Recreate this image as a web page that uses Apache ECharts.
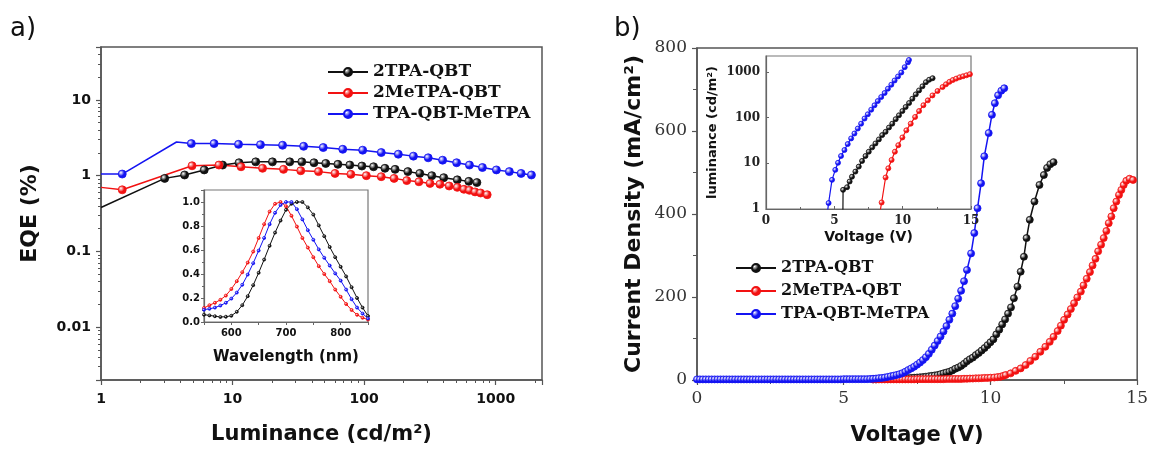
<!DOCTYPE html>
<html>
<head>
<meta charset="utf-8">
<script src="https://cdn.jsdelivr.net/npm/echarts@6/dist/echarts.min.js"></script>
<style>
  html, body { margin: 0; padding: 0; background: #fff; }
  #chart { width: 1151px; height: 453px; }
</style>
</head>
<body>
<div id="chart"></div>
<script>
// ---- data ----
const seriesNames = ["2TPA-QBT", "2MeTPA-QBT", "TPA-QBT-MeTPA"];
const seriesColors = ["#111111", "#f21212", "#1414f2"];

// a) EQE vs luminance
const blackLum = [1, 3.05, 4.32, 6.09, 8.4, 11.2, 15.0, 20.1, 27.2, 33.6, 41.6, 51.1, 63.2, 77.8, 96.2, 118, 144, 172, 215, 265, 327, 403, 511, 625, 720];
const blackEqe = [0.38, 0.92, 1.02, 1.19, 1.38, 1.48, 1.52, 1.52, 1.52, 1.52, 1.48, 1.45, 1.41, 1.38, 1.34, 1.31, 1.25, 1.21, 1.13, 1.07, 1.0, 0.94, 0.88, 0.84, 0.81];
const redLum = [1, 1.45, 4.92, 7.88, 11.6, 16.9, 24.4, 33.0, 45.0, 60.1, 79.3, 104, 135, 169, 211, 261, 317, 377, 443, 511, 574, 632, 697, 768, 862];
const redEqe = [0.7, 0.65, 1.35, 1.38, 1.31, 1.25, 1.21, 1.16, 1.13, 1.07, 1.04, 1.0, 0.97, 0.92, 0.86, 0.83, 0.79, 0.77, 0.73, 0.7, 0.66, 0.64, 0.61, 0.59, 0.56];
const blueLum = [1, 1.45, 3.75, 4.86, 7.24, 11.1, 16.3, 24.0, 34.7, 48.9, 68.8, 97.5, 135, 182, 237, 307, 395, 505, 632, 793, 1013, 1271, 1561, 1870];
const blueEqe = [1.05, 1.05, 2.78, 2.65, 2.65, 2.59, 2.56, 2.52, 2.44, 2.35, 2.23, 2.17, 2.02, 1.92, 1.81, 1.72, 1.6, 1.48, 1.38, 1.28, 1.19, 1.13, 1.07, 1.02];
const eqeNoMarker = [[0], [0], [0, 2]];

// a) inset: EL spectra
const wavelength = [550, 560, 570, 580, 590, 600, 610, 620, 630, 640, 650, 660, 670, 680, 690, 700, 710, 720, 730, 740, 750, 760, 770, 780, 790, 800, 810, 820, 830, 840, 850];
const blackEl = [0.061, 0.055, 0.048, 0.042, 0.044, 0.052, 0.085, 0.14, 0.215, 0.307, 0.41, 0.52, 0.635, 0.745, 0.845, 0.935, 0.985, 1.0, 1.0, 0.955, 0.895, 0.805, 0.715, 0.625, 0.54, 0.46, 0.38, 0.29, 0.2, 0.12, 0.05];
const redEl = [0.117, 0.14, 0.16, 0.185, 0.22, 0.275, 0.34, 0.415, 0.495, 0.587, 0.7, 0.815, 0.92, 0.985, 1.0, 0.965, 0.885, 0.795, 0.7, 0.62, 0.54, 0.465, 0.4, 0.34, 0.27, 0.21, 0.15, 0.1, 0.06, 0.035, 0.02];
const blueEl = [0.103, 0.11, 0.12, 0.137, 0.16, 0.195, 0.245, 0.31, 0.395, 0.49, 0.595, 0.7, 0.815, 0.91, 0.975, 1.0, 1.0, 0.94, 0.855, 0.765, 0.685, 0.605, 0.535, 0.47, 0.405, 0.345, 0.27, 0.19, 0.12, 0.07, 0.03];

// b) current density vs voltage, [V, mA/cm2]
const blackJV = [
  [6,1.5],[6.1,1.5],[6.2,2],[6.3,2],[6.4,2],[6.5,2],[6.6,2.5],[6.7,2.5],[6.8,3],[6.9,3],
  [7,3.5],[7.1,4],[7.2,4.5],[7.3,5],[7.4,5.5],[7.5,6],[7.6,6.5],[7.7,7],[7.8,8],[7.9,9],
  [8,10],[8.1,11],[8.2,12],[8.3,14],[8.4,16],[8.5,18],[8.6,20],[8.7,23],[8.8,27],[8.9,30],
  [9,34],[9.1,39],[9.2,45],[9.3,50],[9.4,54],[9.5,60],[9.6,65],[9.7,71],[9.8,77],[9.9,84],
  [10,91],[10.1,98],[10.2,110],[10.3,121],[10.4,134],[10.5,146],[10.6,160],[10.7,175],[10.8,197],[10.92,225],
  [11.03,261],[11.14,297],[11.23,342],[11.34,386],[11.5,430],[11.67,470],[11.82,494],[11.93,511],[12.04,520],[12.15,525]
];
const redJV = [
  [6,1.5],[6.1,1.5],[6.2,1.5],[6.3,1.5],[6.4,1.5],[6.5,1.5],[6.6,1.5],[6.7,1.5],[6.8,1.5],[6.9,1.5],
  [7,1.5],[7.1,1.5],[7.2,1.5],[7.3,1.5],[7.4,1.5],[7.5,2],[7.6,2],[7.7,2],[7.8,2],[7.9,2],
  [8,2],[8.1,2],[8.2,2],[8.3,2],[8.4,2],[8.5,2.5],[8.6,2.5],[8.7,2.5],[8.8,2.5],[8.9,2.5],
  [9,2.5],[9.1,3],[9.2,3],[9.3,3.5],[9.4,3.5],[9.5,4],[9.6,4],[9.7,4.5],[9.8,5],[9.9,5],
  [10,5.5],[10.13,6],[10.24,7],[10.35,8],[10.44,10],[10.52,12],[10.69,16],[10.86,22],[11.03,28],[11.2,36],
  [11.36,46],[11.53,56],[11.7,68],[11.87,80],[12.02,92],[12.15,104],[12.29,118],[12.4,131],[12.51,145],[12.63,158],
  [12.74,171],[12.85,185],[12.96,199],[13.08,213],[13.17,228],[13.28,244],[13.39,260],[13.48,276],[13.58,292],[13.67,310],
  [13.77,326],[13.86,342],[13.95,359],[14.03,378],[14.12,394],[14.2,414],[14.29,430],[14.38,446],[14.46,458],[14.54,470],
  [14.63,480],[14.74,485],[14.86,482]
];
const blueJV = [
  [0,1.5],[0.1,1.5],[0.2,1.5],[0.3,1.5],[0.4,1.5],[0.5,1.5],[0.6,1.5],[0.7,1.5],[0.8,1.5],[0.9,1.5],
  [1,1.5],[1.1,1.5],[1.2,1.5],[1.3,1.5],[1.4,1.5],[1.5,1.5],[1.6,1.5],[1.7,1.5],[1.8,1.5],[1.9,1.5],
  [2,1.5],[2.1,1.5],[2.2,1.5],[2.3,1.5],[2.4,1.5],[2.5,1.5],[2.6,1.5],[2.7,1.5],[2.8,1.5],[2.9,1.5],
  [3,1.5],[3.1,1.5],[3.2,1.5],[3.3,1.5],[3.4,1.5],[3.5,1.5],[3.6,1.5],[3.7,1.5],[3.8,1.5],[3.9,1.5],
  [4,1.5],[4.1,1.5],[4.2,1.5],[4.3,1.5],[4.4,1.5],[4.5,1.5],[4.6,1.5],[4.7,1.5],[4.8,1.5],[4.9,1.5],
  [5,2],[5.1,2],[5.2,2],[5.3,2],[5.4,2],[5.5,2],[5.6,2],[5.7,2],[5.8,2],[5.9,2.5],
  [6,3],[6.1,3.5],[6.2,4.5],[6.3,5],[6.4,6],[6.5,7.5],[6.6,9],[6.7,10.5],[6.8,12],[6.9,14],
  [7,16.5],[7.1,20],[7.2,24],[7.3,28],[7.4,32],[7.5,37],[7.6,42],[7.7,48],[7.8,55],[7.9,63],
  [8,73],[8.1,83],[8.2,94],[8.3,105],[8.4,117],[8.5,130],[8.6,145],[8.7,160],[8.8,178],[8.9,196],
  [9,215],[9.1,238],[9.2,265],[9.34,305],[9.45,354],[9.56,414],[9.68,474],[9.79,539],[9.94,595],
  [10.05,639],[10.15,667],[10.26,686],[10.37,697],[10.47,703]
];

// b) inset: luminance vs voltage, [V, cd/m2]
const blackLV = [
  [5.62,0.5],[5.64,2.63],[5.93,3.0],[6.12,4.0],[6.29,5.1],[6.54,6.6],[6.79,8.5],[7.03,11.3],[7.28,14.5],[7.52,18],
  [7.77,22.4],[8.01,27.3],[8.26,33.5],[8.5,41.6],[8.75,49],[9.0,61],[9.24,74],[9.49,93],[9.73,113],[9.98,140],
  [10.22,172],[10.47,210],[10.71,261],[10.96,325],[11.2,397],[11.45,488],[11.7,600],[11.94,680],[12.19,735]
];
const redLV = [
  [8.21,0.5],[8.46,1.39],[8.75,4.9],[8.95,7.8],[9.19,11.9],[9.43,18],[9.68,25],[9.98,37],[10.27,53],[10.59,74],
  [10.91,104],[11.2,140],[11.52,188],[11.84,240],[12.18,308],[12.55,385],[12.92,470],[13.17,540],[13.42,610],[13.67,670],
  [13.92,720],[14.17,770],[14.42,810],[14.67,850],[14.92,900]
];
const blueLV = [
  [4.4,0.5],[4.58,1.35],[4.83,4.35],[5.07,7.2],[5.27,10.3],[5.49,14.5],[5.74,19.6],[5.98,26.5],[6.23,35.2],[6.47,45.1],
  [6.72,58],[6.96,74],[7.21,96],[7.45,119],[7.7,150],[7.94,187],[8.18,232],[8.43,284],[8.68,348],[8.92,432],
  [9.17,529],[9.41,654],[9.66,803],[9.9,979],[10.15,1283],[10.39,1639],[10.46,1846]
];

// ---- helpers ----
function zip(xs, ys) {
  return xs.map((x, i) => [x, ys[i]]);
}
function ball(c) {
  return new echarts.graphic.RadialGradient(0.35, 0.35, 0.75, [
    { offset: 0, color: "rgba(255,255,255,0.95)" },
    { offset: 0.5, color: c },
    { offset: 1, color: c },
  ]);
}
// log axis labels without thousands separators
function plainNum(v) {
  return String(parseFloat(Number(v).toPrecision(6)));
}

const frame = "#555";
const sansBold = { fontFamily: "DejaVu Sans", fontWeight: "bold", color: "#111" };
const serif = { fontFamily: "DejaVu Serif", color: "#333" };

function lineSeries(i, xIdx, data, size, width, z) {
  const c = seriesColors[i];
  return {
    type: "line",
    name: seriesNames[i],
    xAxisIndex: xIdx,
    yAxisIndex: xIdx,
    data: data,
    symbol: "circle",
    symbolSize: size,
    showAllSymbol: true,
    itemStyle: { color: ball(c), borderColor: c, borderWidth: 0.8 },
    lineStyle: { color: c, width: width },
    emphasis: { disabled: true },
    z: z,
  };
}

const eqeData = [zip(blackLum, blackEqe), zip(redLum, redEqe), zip(blueLum, blueEqe)].map((pts, s) =>
  pts.map((p, i) => (eqeNoMarker[s].includes(i) ? { value: p, symbol: "none" } : p))
);
const elData = [zip(wavelength, blackEl), zip(wavelength, redEl), zip(wavelength, blueEl)];
const jvData = [blackJV, redJV, blueJV];
const lvData = [blackLV, redLV, blueLV];

const axisLine = { show: true, onZero: false, lineStyle: { color: frame, width: 1.5 } };

const option = {
  animation: false,
  backgroundColor: "#fff",
  graphic: [
    { type: "text", left: 10, top: 16, style: { text: "a)", font: "26px 'DejaVu Sans'", fill: "#111" } },
    { type: "text", left: 614, top: 16, style: { text: "b)", font: "26px 'DejaVu Sans'", fill: "#111" } },
  ],
  grid: [
    { left: 101, top: 47, width: 441, height: 333, show: true, borderColor: frame, borderWidth: 1.5 },
    { left: 204, top: 190, width: 164, height: 132, show: true, borderColor: "#777", borderWidth: 1.2, backgroundColor: "#fff", z: 10 },
    { left: 697, top: 48, width: 444, height: 332, show: true, borderColor: frame, borderWidth: 1.5 },
    { left: 766, top: 56, width: 205, height: 153, show: true, borderColor: "#777", borderWidth: 1.2, backgroundColor: "#fff", z: 10 },
  ],
  legend: [
    {
      orient: "vertical", left: 327, top: 63, padding: 0, itemGap: 3, itemWidth: 40, itemHeight: 10,
      data: seriesNames, selectedMode: false,
      textStyle: { fontFamily: "DejaVu Serif", fontWeight: "bold", fontSize: 17, lineHeight: 18, color: "#111" },
    },
    {
      orient: "vertical", left: 735, top: 259, padding: 0, itemGap: 5, itemWidth: 40, itemHeight: 10,
      data: seriesNames, selectedMode: false,
      textStyle: { fontFamily: "DejaVu Serif", fontWeight: "bold", fontSize: 16, lineHeight: 18, color: "#111" },
    },
  ],
  xAxis: [
    {
      gridIndex: 0, type: "log", min: 1, max: 2250,
      axisLine: axisLine,
      axisTick: { length: 5, lineStyle: { color: frame, width: 1.2 } },
      minorTick: { show: true, splitNumber: 9, length: 3, lineStyle: { color: frame } },
      splitLine: { show: false },
      axisLabel: { ...sansBold, fontSize: 14, margin: 12, showMaxLabel: false, formatter: plainNum },
      name: "Luminance (cd/m²)", nameLocation: "middle", nameGap: 44,
      nameTextStyle: { ...sansBold, fontSize: 21 },
    },
    {
      gridIndex: 1, type: "value", min: 550, max: 850, interval: 50, z: 11,
      axisLine: { ...axisLine, lineStyle: { color: "#666", width: 1.2 } },
      axisTick: { length: 3, lineStyle: { color: "#666" } },
      splitLine: { show: false },
      axisLabel: { ...sansBold, fontSize: 10, margin: 6, formatter: (v) => (v % 100 === 0 ? String(v) : "") },
      name: "Wavelength (nm)", nameLocation: "middle", nameGap: 28,
      nameTextStyle: { ...sansBold, fontSize: 15 },
    },
    {
      gridIndex: 2, type: "value", min: 0, max: 15, interval: 5,
      axisLine: axisLine,
      axisTick: { length: 5, lineStyle: { color: frame, width: 1.2 } },
      minorTick: { show: true, splitNumber: 2, length: 4, lineStyle: { color: frame } },
      splitLine: { show: false },
      axisLabel: { ...serif, fontSize: 17, margin: 10 },
      name: "Voltage (V)", nameLocation: "middle", nameGap: 45,
      nameTextStyle: { ...sansBold, fontSize: 21 },
    },
    {
      gridIndex: 3, type: "value", min: 0, max: 15, interval: 5, z: 11,
      axisLine: { ...axisLine, lineStyle: { color: "#666", width: 1.2 } },
      axisTick: { inside: true, length: 3, lineStyle: { color: "#666" } },
      minorTick: { show: true, splitNumber: 2, length: 2, lineStyle: { color: "#666" } },
      splitLine: { show: false },
      axisLabel: { fontFamily: "DejaVu Serif", fontWeight: "bold", color: "#222", fontSize: 12, margin: 6 },
      name: "Voltage (V)", nameLocation: "middle", nameGap: 21,
      nameTextStyle: { ...sansBold, fontSize: 14 },
    },
  ],
  yAxis: [
    {
      gridIndex: 0, type: "log", min: 0.002, max: 50,
      axisLine: axisLine,
      axisTick: { length: 5, lineStyle: { color: frame, width: 1.2 } },
      minorTick: { show: true, splitNumber: 9, length: 3, lineStyle: { color: frame } },
      splitLine: { show: false },
      axisLabel: { ...sansBold, fontSize: 14, margin: 10, showMinLabel: false, showMaxLabel: false, formatter: plainNum },
      name: "EQE (%)", nameLocation: "middle", nameGap: 60, nameRotate: 90,
      nameTextStyle: { ...sansBold, fontSize: 22 },
    },
    {
      gridIndex: 1, type: "value", min: 0, max: 1.1, interval: 0.2, z: 11,
      axisLine: { ...axisLine, lineStyle: { color: "#666", width: 1.2 } },
      axisTick: { length: 3, lineStyle: { color: "#666" } },
      minorTick: { show: true, splitNumber: 2, length: 2, lineStyle: { color: "#666" } },
      splitLine: { show: false },
      axisLabel: { ...sansBold, fontSize: 10, margin: 4, showMaxLabel: false, formatter: (v) => v.toFixed(1) },
    },
    {
      gridIndex: 2, type: "value", min: 0, max: 800, interval: 200,
      axisLine: axisLine,
      axisTick: { length: 5, lineStyle: { color: frame, width: 1.2 } },
      minorTick: { show: true, splitNumber: 2, length: 4, lineStyle: { color: frame } },
      splitLine: { show: false },
      axisLabel: { ...serif, fontSize: 17, margin: 10 },
      name: "Current Density (mA/cm²)", nameLocation: "middle", nameGap: 52, nameRotate: 90,
      nameTextStyle: { ...sansBold, fontSize: 22 },
    },
    {
      gridIndex: 3, type: "log", min: 1, max: 2250, z: 11,
      axisLine: { ...axisLine, lineStyle: { color: "#666", width: 1.2 } },
      axisTick: { inside: true, length: 3, lineStyle: { color: "#666" } },
      splitLine: { show: false },
      axisLabel: { fontFamily: "DejaVu Serif", fontWeight: "bold", color: "#222", fontSize: 12, margin: 6, showMaxLabel: false, formatter: plainNum },
      name: "luminance (cd/m²)", nameLocation: "middle", nameGap: 47, nameRotate: 90,
      nameTextStyle: { ...sansBold, fontSize: 13 },
    },
  ],
  series: [
    ...eqeData.map((d, i) => lineSeries(i, 0, d, 8, 1.5, 2)),
    ...elData.map((d, i) => lineSeries(i, 1, d, 3, 1, 12)),
    ...jvData.map((d, i) => lineSeries(i, 2, d, 7, 1.5, 2)),
    ...lvData.map((d, i) => lineSeries(i, 3, d, 5, 1.2, 12)),
  ],
};

const chart = echarts.init(document.getElementById("chart"));
chart.setOption(option);
</script>
</body>
</html>
